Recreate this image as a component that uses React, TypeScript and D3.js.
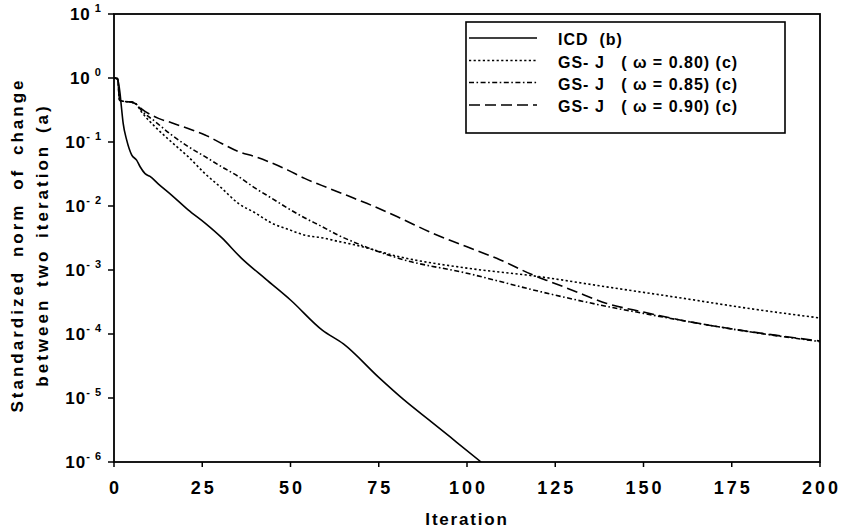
import React from 'react';
import * as d3 from 'd3';

const xTicks = [0, 25, 50, 75, 100, 125, 150, 175, 200];
const yExponents = [1, 0, -1, -2, -3, -4, -5, -6];

const icdIter = [0, 1, 1.7, 2, 2.6, 3.6, 5, 6.4, 7.4, 8.8, 10.2, 12.6, 16.3, 21, 25.8, 30.5, 36, 43, 50, 59, 65, 75, 82, 90, 97, 104];
const icdValue = [1.0, 0.95, 0.58, 0.4, 0.195, 0.107, 0.063, 0.052, 0.041, 0.032, 0.029, 0.022, 0.0148, 0.0087, 0.0054, 0.0032, 0.00155, 0.00072, 0.00034, 0.000115, 0.00007, 0.000021, 0.0000095, 0.0000042, 0.00000205, 0.000001];

const gs80Iter = [0, 1, 1.6, 3, 5, 6.3, 7.8, 11.6, 16.3, 21, 25.8, 30.5, 35.2, 40, 44.7, 49.4, 54.1, 58.8, 63.5, 67.8, 81, 100, 118.8, 140, 160, 180, 200];
const gs80Value = [1, 0.98, 0.45, 0.43, 0.42, 0.39, 0.295, 0.174, 0.1, 0.059, 0.032, 0.019, 0.011, 0.0078, 0.0054, 0.0043, 0.0035, 0.0032, 0.0028, 0.0025, 0.0016, 0.00107, 0.00081, 0.00054, 0.00037, 0.00025, 0.000178];

const gs85Iter = [0, 1, 1.6, 3, 5, 6.3, 7.8, 11.6, 16.3, 21, 25.8, 30.5, 35.2, 40, 44.7, 49.4, 54.1, 58.8, 63.5, 67.8, 81, 100, 120.7, 139.6, 150, 160, 177, 200];
const gs85Value = [1, 0.98, 0.45, 0.43, 0.42, 0.39, 0.31, 0.21, 0.129, 0.085, 0.059, 0.041, 0.029, 0.019, 0.0132, 0.0091, 0.0065, 0.0048, 0.0035, 0.00275, 0.0015, 0.00089, 0.00046, 0.00027, 0.00021, 0.000166, 0.000115, 0.000076];

const gs90Iter = [0, 1, 1.6, 3, 5, 6.3, 7.8, 12.6, 16.3, 21, 25.8, 30.5, 35.2, 40, 44.7, 49.4, 54, 58.8, 63.5, 68, 71.6, 81, 90.5, 100, 109.3, 118.8, 123.5, 130, 139.6, 150, 160.3, 177.3, 200];
const gs90Value = [1, 0.98, 0.45, 0.43, 0.42, 0.39, 0.33, 0.234, 0.2, 0.162, 0.129, 0.095, 0.071, 0.059, 0.047, 0.036, 0.027, 0.021, 0.0166, 0.0132, 0.011, 0.0065, 0.0037, 0.0023, 0.00145, 0.00083, 0.00066, 0.00048, 0.0003, 0.00022, 0.000166, 0.000115, 0.0000776];

const seriesLabels = ['ICD  (b)', 'GS- J   ( \u03c9 = 0.80) (c)', 'GS- J   ( \u03c9 = 0.85) (c)', 'GS- J   ( \u03c9 = 0.90) (c)'];
const seriesDash = ['none', '2.2,2.4', '5,2.5,1.6,2.5', '11,5'];

const FONT = '"Liberation Sans", Arial, Helvetica, sans-serif';

export default function App() {
  const W = 841, H = 530;
  const L = 114, R = 820, T = 14, B = 462;
  const x = d3.scaleLinear().domain([0, 200]).range([L, R]);
  const y = d3.scaleLog().domain([1e-6, 10]).range([B, T]);
  const line = d3.line<[number, number]>().x(d => x(d[0])).y(d => y(d[1])).curve(d3.curveMonotoneX);

  const series = [
    icdIter.map((v, i) => [v, icdValue[i]] as [number, number]),
    gs80Iter.map((v, i) => [v, gs80Value[i]] as [number, number]),
    gs85Iter.map((v, i) => [v, gs85Value[i]] as [number, number]),
    gs90Iter.map((v, i) => [v, gs90Value[i]] as [number, number]),
  ];

  const legX = 466, legY = 22, legW = 319, legH = 111;
  const rowY = [39, 61.5, 83.5, 106];

  return (
    <svg width={W} height={H} style={{ position: 'fixed', left: 0, top: 0, background: '#fff' }} fontFamily={FONT} fontWeight="bold">
      <rect x={0} y={0} width={W} height={H} fill="#fff" />
      <defs>
        <clipPath id="plot">
          <rect x={L} y={T} width={R - L} height={B - T} />
        </clipPath>
      </defs>
      <g clipPath="url(#plot)">
        {series.map((s, i) => (
          <path key={i} d={line(s) || ''} fill="none" stroke="#000" strokeWidth={1.6}
            strokeDasharray={seriesDash[i] === 'none' ? undefined : seriesDash[i]} />
        ))}
      </g>
      <rect x={L} y={T} width={R - L} height={B - T} fill="none" stroke="#000" strokeWidth={1.8} />
      {yExponents.map(e => (
        <g key={e}>
          <line x1={L - 6} x2={L} y1={y(Math.pow(10, e))} y2={y(Math.pow(10, e))} stroke="#000" strokeWidth={1.5} />
          <text x={102} y={y(Math.pow(10, e)) + 6} textAnchor="end" fontSize={17} letterSpacing={1}>
            10<tspan dy={-8} fontSize={11}>{e < 0 ? '- ' + Math.abs(e) : ' ' + e}</tspan>
          </text>
        </g>
      ))}
      {xTicks.map(t => (
        <g key={t}>
          <line x1={x(t)} x2={x(t)} y1={B} y2={B + 5} stroke="#000" strokeWidth={1.5} />
          <text x={x(t) + 1.5} y={494} textAnchor="middle" fontSize={18} letterSpacing={3}>{t}</text>
        </g>
      ))}
      <text x={467} y={525} textAnchor="middle" fontSize={17} letterSpacing={1.8}>Iteration</text>
      <g transform="translate(23,245) rotate(-90)">
        <text x={0} y={0} textAnchor="middle" fontSize={17} letterSpacing={3} wordSpacing={5}>Standardized norm of change</text>
        <text x={0} y={25} textAnchor="middle" fontSize={17} letterSpacing={3} wordSpacing={3}>between two iteration (a)</text>
      </g>
      <rect x={legX} y={legY} width={legW} height={legH} fill="#fff" stroke="#000" strokeWidth={1.6} />
      {seriesLabels.map((lab, i) => (
        <g key={i}>
          <line x1={469} x2={537} y1={rowY[i] - 1} y2={rowY[i] - 1} stroke="#000" strokeWidth={1.6}
            strokeDasharray={seriesDash[i] === 'none' ? undefined : seriesDash[i]} />
          <text x={558} y={rowY[i] + 6} fontSize={16} letterSpacing={1} style={{ whiteSpace: 'pre' }}>{lab}</text>
        </g>
      ))}
    </svg>
  );
}
